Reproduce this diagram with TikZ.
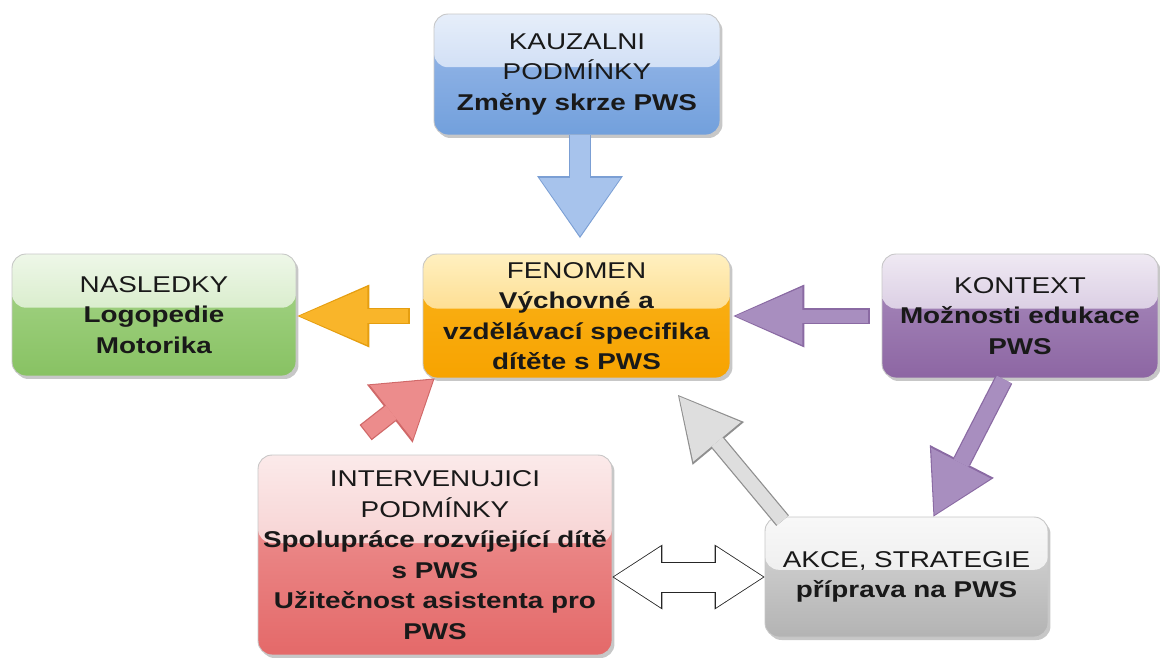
\documentclass[tikz,border=0pt]{standalone}
\usepackage{fontspec}
\setmainfont[FakeStretch=1.22]{Liberation Sans}
\usetikzlibrary{arrows.meta,shadows,calc}

% box shadings: gloss top / colour under the gloss / bottom
\definecolor{kauzT}{HTML}{E6EEFA}\definecolor{kauzM}{HTML}{9DBBEA}\definecolor{kauzB}{HTML}{72A0DC}
\definecolor{naslT}{HTML}{EEF7E8}\definecolor{naslM}{HTML}{A9D68C}\definecolor{naslB}{HTML}{88C263}
\definecolor{fenT}{HTML}{FFF0C0}\definecolor{fenM}{HTML}{FBB41C}\definecolor{fenB}{HTML}{F7A300}
\definecolor{kontT}{HTML}{EFE9F3}\definecolor{kontM}{HTML}{AC90C0}\definecolor{kontB}{HTML}{8D66A3}
\definecolor{intT}{HTML}{FBEAEA}\definecolor{intM}{HTML}{EF9C9C}\definecolor{intB}{HTML}{E46969}
\definecolor{akceT}{HTML}{F8F8F8}\definecolor{akceM}{HTML}{DADADA}\definecolor{akceB}{HTML}{B3B3B3}
% block arrow fills and edges
\definecolor{blueFill}{HTML}{A7C3EC}\definecolor{blueEdge}{HTML}{7B9FD4}
\definecolor{orFill}{HTML}{F9B52A}\definecolor{orEdge}{HTML}{E59E10}
\definecolor{purFill}{HTML}{A88EBF}\definecolor{purEdge}{HTML}{8A6AA3}
\definecolor{grFill}{HTML}{DEDEDE}\definecolor{grEdge}{HTML}{8F8F8F}
\definecolor{redFill}{HTML}{EC8C8C}\definecolor{redEdge}{HTML}{D06868}

\tikzset{
  box/.style={rectangle, rounded corners=2.8mm, align=center, inner sep=0pt,
    draw=black!22, line width=0.5pt, text=black!90,
    font=\fontsize{13}{17.4}\selectfont,
    drop shadow={shadow xshift=0.5mm, shadow yshift=-0.6mm, opacity=0.22, fill=black}},
  % lower body shading plus a glossy upper band
  shadebox/.style n args={3}{top color=#2, middle color=#2, bottom color=#3,
    path picture={\shade[top color=#1, bottom color=#2!72!white]
      (path picture bounding box.north west) rectangle
      ($(path picture bounding box.north east)!0.44!(path picture bounding box.south east)$);}},
  arrowline/.style n args={3}{line width=#1, line cap=butt,
    -{Triangle[length=#2, width=#3, line width=0pt]}},
  twoway/.style n args={3}{line width=#1, line cap=butt,
    {Triangle[length=#2, width=#3, line width=0pt]}-{Triangle[length=#2, width=#3, line width=0pt]}},
}

\begin{document}
\begin{tikzpicture}[x=0.02cm, y=-0.02cm]
\useasboundingbox (0,0) rectangle (1160,657);

% the six category boxes
\node[box, shadebox={kauzT}{kauzM}{kauzB}, minimum width=5.72cm, minimum height=2.42cm]
  (kauz) at (577,74.5) {KAUZALNI\\PODMÍNKY\\\textbf{Změny skrze PWS}};
\node[box, shadebox={naslT}{naslM}{naslB}, minimum width=5.68cm, minimum height=2.44cm]
  (nasl) at (154,315) {NASLEDKY\\\textbf{Logopedie}\\\textbf{Motorika}};
\node[box, shadebox={fenT}{fenM}{fenB}, minimum width=6.14cm, minimum height=2.48cm]
  (fen) at (576.5,316) {FENOMEN\\\textbf{Výchovné a}\\\textbf{vzdělávací specifika}\\\textbf{dítěte s PWS}};
\node[box, shadebox={kontT}{kontM}{kontB}, minimum width=5.52cm, minimum height=2.48cm]
  (kont) at (1020,316) {KONTEXT\\\textbf{Možnosti edukace}\\\textbf{PWS}};
\node[box, shadebox={intT}{intM}{intB}, minimum width=7.08cm, minimum height=4.0cm]
  (interv) at (435,555) {INTERVENUJICI\\PODMÍNKY\\\textbf{Spolupráce rozvíjející dítě}\\\textbf{s PWS}\\\textbf{Užitečnost asistenta pro}\\\textbf{PWS}};
\node[box, shadebox={akceT}{akceM}{akceB}, minimum width=5.66cm, minimum height=2.4cm]
  (akce) at (906.5,577) {AKCE, STRATEGIE\\\textbf{příprava na PWS}};

% free ends of the block arrows
\coordinate (bluetip) at (580,238);
\coordinate (kd1) at ($(kont.south)+(-16,1)$);
\coordinate (kd2) at ($(akce.north)+(27,0)$);
\coordinate (g1) at ($(akce.north west)+(18,4)$);
\coordinate (g2) at (678,395);
\coordinate (r1) at ($(interv.north west)+(108,-22)$);
\coordinate (r2) at ($(fen.south west)+(12,0)$);

% causal conditions -> phenomenon
\draw[color=blueEdge, arrowline={4.5mm}{12.4mm}{17.2mm}] (kauz.south -| bluetip) -- (bluetip);
\draw[color=blueFill, arrowline={4mm}{11.6mm}{16.2mm}, shorten >=0.4mm] (kauz.south -| bluetip) -- (bluetip);

% phenomenon -> consequences
\draw[color=orEdge, arrowline={3.3mm}{14.4mm}{12.6mm}, shorten <=2.6mm, shorten >=0.2mm] (fen.west) -- (nasl.east |- fen.west);
\draw[color=orFill, arrowline={2.8mm}{13.6mm}{11.6mm}, shorten <=2.85mm, shorten >=0.6mm] (fen.west) -- (nasl.east |- fen.west);

% context -> phenomenon
\draw[color=purEdge, arrowline={3.1mm}{14.2mm}{12.6mm}, shorten <=2.4mm, shorten >=0.6mm] (kont.west) -- (fen.east);
\draw[color=purFill, arrowline={2.6mm}{13.4mm}{11.6mm}, shorten <=2.65mm, shorten >=1.0mm] (kont.west) -- (fen.east);

% context -> action/strategy
\draw[color=purEdge, arrowline={3.7mm}{12.4mm}{14.4mm}] (kd1) -- (kd2);
\draw[color=purFill, arrowline={3.2mm}{11.6mm}{13.4mm}, shorten >=0.4mm] (kd1) -- (kd2);

% action/strategy -> phenomenon
\draw[color=grEdge, arrowline={3.3mm}{12.6mm}{13.4mm}] (g1) -- (g2);
\draw[color=grFill, arrowline={2.8mm}{11.8mm}{12.4mm}, shorten >=0.4mm] (g1) -- (g2);

% intervening conditions -> phenomenon
\draw[color=redEdge, arrowline={3.9mm}{11.4mm}{14.8mm}] (r1) -- (r2);
\draw[color=redFill, arrowline={3.4mm}{10.6mm}{13.8mm}, shorten <=0.25mm, shorten >=0.4mm] (r1) -- (r2);

% intervening conditions <-> action/strategy
\draw[color=black!85, twoway={6.2mm}{10mm}{13mm}] (interv.east |- akce.west) -- (akce.west);
\draw[color=white, twoway={5.8mm}{9.4mm}{12.2mm}, shorten <=0.3mm, shorten >=0.3mm] (interv.east |- akce.west) -- (akce.west);
\end{tikzpicture}
\end{document}
